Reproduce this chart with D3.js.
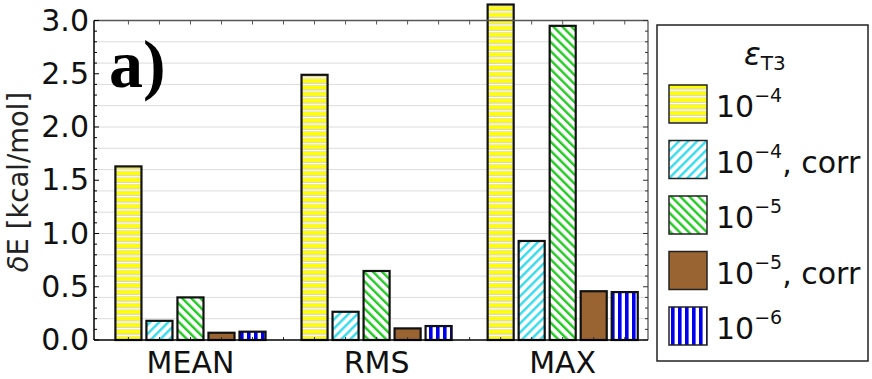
<!DOCTYPE html>
<html><head><meta charset="utf-8">
<script src="https://cdn.jsdelivr.net/npm/d3@7"></script>
<style>body{margin:0;background:#fff}svg{display:block}</style>
</head><body>
<svg id="c" width="872" height="379"></svg>
<script>
const categories = ["MEAN", "RMS", "MAX"];
const seriesIds = ["e4", "e4corr", "e5", "e5corr", "e6"];
const legendExp = ["\u22124", "\u22124", "\u22125", "\u22125", "\u22126"];
const legendSuffix = ["", ", corr", "", ", corr", ""];
const e4 = [1.63, 2.49, 3.15];
const e4corr = [0.18, 0.265, 0.93];
const e5 = [0.40, 0.648, 2.95];
const e5corr = [0.068, 0.109, 0.458];
const e6 = [0.078, 0.131, 0.45];
const yTickLabels = [0, 0.5, 1.0, 1.5, 2.0, 2.5, 3.0];
const gridValues = d3.range(0.2, 3.0, 0.2);
const minorTicks = d3.range(0, 3.01, 0.1);
const seriesValues = [e4, e4corr, e5, e5corr, e6];

const FONT = "'DejaVu Sans', 'Liberation Sans', Arial, sans-serif";
const svg = d3.select("#c");
const L = 94, R = 648, T = 20.5, B = 340;
const y = d3.scaleLinear().domain([0, 3]).range([B, T]);
const nS = seriesIds.length;
const x = d3.scaleLinear().domain([-1.11, 16.75]).range([L, R]);
const bw = x(0.84) - x(0);

// patterns
const defs = svg.append("defs");
const p1 = defs.append("pattern").attr("id", "p_e4").attr("patternUnits", "userSpaceOnUse").attr("width", 10).attr("height", 6.6);
p1.append("rect").attr("width", 10).attr("height", 6.6).attr("fill", "#fff");
p1.append("rect").attr("y", 0).attr("width", 10).attr("height", 3.6).attr("fill", "#ffff00");
p1.append("rect").attr("y", 3.6).attr("width", 10).attr("height", 0.8).attr("fill", "#c8c0a0");
p1.append("rect").attr("y", 6.0).attr("width", 10).attr("height", 0.6).attr("fill", "#d8d0b0");

function diag(id, color, angle) {
  const p = defs.append("pattern").attr("id", id).attr("patternUnits", "userSpaceOnUse")
    .attr("width", 6.4).attr("height", 10).attr("patternTransform", `rotate(${angle})`);
  p.append("rect").attr("width", 6.4).attr("height", 10).attr("fill", "#fff");
  p.append("rect").attr("x", 0).attr("width", 2.4).attr("height", 10).attr("fill", color);
}
diag("p_e4corr", "#33dded", 45);
diag("p_e5", "#22cc22", -45);
const p4 = defs.append("pattern").attr("id", "p_e5corr").attr("patternUnits", "userSpaceOnUse").attr("width", 10).attr("height", 10);
p4.append("rect").attr("width", 10).attr("height", 10).attr("fill", "#9a6432");
const p5 = defs.append("pattern").attr("id", "p_e6").attr("patternUnits", "userSpaceOnUse").attr("width", 7).attr("height", 10);
p5.append("rect").attr("width", 7).attr("height", 10).attr("fill", "#fff");
p5.append("rect").attr("x", 2).attr("width", 3.6).attr("height", 10).attr("fill", "#0000ee");

// gridlines
svg.append("g").selectAll("line").data(gridValues).join("line")
  .attr("x1", L).attr("x2", R).attr("y1", d => y(d)).attr("y2", d => y(d))
  .attr("stroke", "#dcdcdc").attr("stroke-width", 1);

// slot ticks (top & bottom)
const slots = d3.range(0, categories.length * (nS + 1) - 1);
svg.append("g").selectAll("line").data(slots).join("line")
  .attr("x1", d => x(d)).attr("x2", d => x(d)).attr("y1", T).attr("y2", T + 4)
  .attr("stroke", "#555").attr("stroke-width", 1);

// bars
const bars = [];
categories.forEach((c, ci) => seriesValues.forEach((arr, si) => bars.push({ slot: ci * (nS + 1) + si, v: arr[ci], s: seriesIds[si] })));
svg.append("g").selectAll("rect").data(bars).join("rect")
  .attr("x", d => x(d.slot) - bw / 2).attr("width", bw)
  .attr("y", d => y(d.v)).attr("height", d => y(0) - y(d.v))
  .attr("fill", d => `url(#p_${d.s})`).attr("stroke", "#111").attr("stroke-width", 2.2);

svg.append("g").selectAll("line").data(slots).join("line")
  .attr("x1", d => x(d)).attr("x2", d => x(d)).attr("y1", B).attr("y2", B - 3)
  .attr("stroke", "#333").attr("stroke-width", 1);

// frame
svg.append("line").attr("x1", L).attr("x2", R).attr("y1", T).attr("y2", T).attr("stroke", "#555").attr("stroke-width", 1.3);
svg.append("line").attr("x1", R).attr("x2", R).attr("y1", T).attr("y2", B).attr("stroke", "#555").attr("stroke-width", 1.3);
svg.append("line").attr("x1", L).attr("x2", L).attr("y1", T).attr("y2", B).attr("stroke", "#000").attr("stroke-width", 1.5);
svg.append("line").attr("x1", L).attr("x2", R).attr("y1", B).attr("y2", B).attr("stroke", "#000").attr("stroke-width", 1.5);

// y ticks left/right
const isMajor = d => Math.abs(d * 2 - Math.round(d * 2)) < 1e-6;
svg.append("g").selectAll("line").data(minorTicks).join("line")
  .attr("x1", L).attr("x2", d => L + (isMajor(d) ? 5 : 3)).attr("y1", d => y(d)).attr("y2", d => y(d))
  .attr("stroke", "#000").attr("stroke-width", 1);
svg.append("g").selectAll("line").data(minorTicks).join("line")
  .attr("x1", R).attr("x2", d => R - (isMajor(d) ? 5 : 3)).attr("y1", d => y(d)).attr("y2", d => y(d))
  .attr("stroke", "#333").attr("stroke-width", 1);

svg.append("g").selectAll("text").data(yTickLabels).join("text")
  .attr("x", 89).attr("y", d => y(d) + 10).attr("text-anchor", "end")
  .attr("font-family", FONT).attr("font-size", 30).attr("fill", "#111")
  .text(d => d.toFixed(1));

// category labels
svg.append("g").selectAll("text").data(categories).join("text")
  .attr("x", (d, i) => x(i * (nS + 1) + (nS - 1) / 2)).attr("y", 373).attr("text-anchor", "middle")
  .attr("font-family", FONT).attr("font-size", 30).attr("fill", "#111").text(d => d);

// y title
const yt = svg.append("text").attr("transform", "translate(28,182) rotate(-90)").attr("text-anchor", "middle")
  .attr("font-family", FONT).attr("font-size", 27.5).attr("fill", "#222");
yt.append("tspan").attr("font-style", "italic").text("\u03b4");
yt.append("tspan").text("E [kcal/mol]");

// panel label
svg.append("text").attr("x", 109).attr("y", 87).attr("font-family", "'Liberation Serif', 'Times New Roman', serif")
  .attr("font-weight", "bold").attr("font-size", 68).attr("fill", "#000").text("a)");

// legend
const lg = svg.append("g");
lg.append("rect").attr("x", 657).attr("y", 25).attr("width", 211).attr("height", 336)
  .attr("fill", "#fff").attr("stroke", "#222").attr("stroke-width", 1.5);
const lt = lg.append("text").attr("x", 744).attr("y", 65).attr("font-family", FONT).attr("fill", "#111");
lt.append("tspan").attr("font-size", 31).attr("font-style", "italic").text("\u03b5");
lt.append("tspan").attr("font-size", 20).attr("dy", 5).text("T3");
const items = lg.selectAll("g.item").data(seriesIds).join("g").attr("class", "item")
  .attr("transform", (d, i) => `translate(669,${85 + i * 55.5})`);
items.append("rect").attr("width", 38).attr("height", 38).attr("fill", d => `url(#p_${d})`)
  .attr("stroke", "#222").attr("stroke-width", 1.5);
const itx = items.append("text").attr("x", 47).attr("y", 32).attr("font-family", FONT).attr("font-size", 30).attr("fill", "#111");
itx.append("tspan").text("10");
itx.append("tspan").attr("font-size", 19).attr("dy", -15).text((d, i) => legendExp[i]);
itx.append("tspan").attr("dy", 15).text((d, i) => legendSuffix[i]);
</script>
</body></html>
